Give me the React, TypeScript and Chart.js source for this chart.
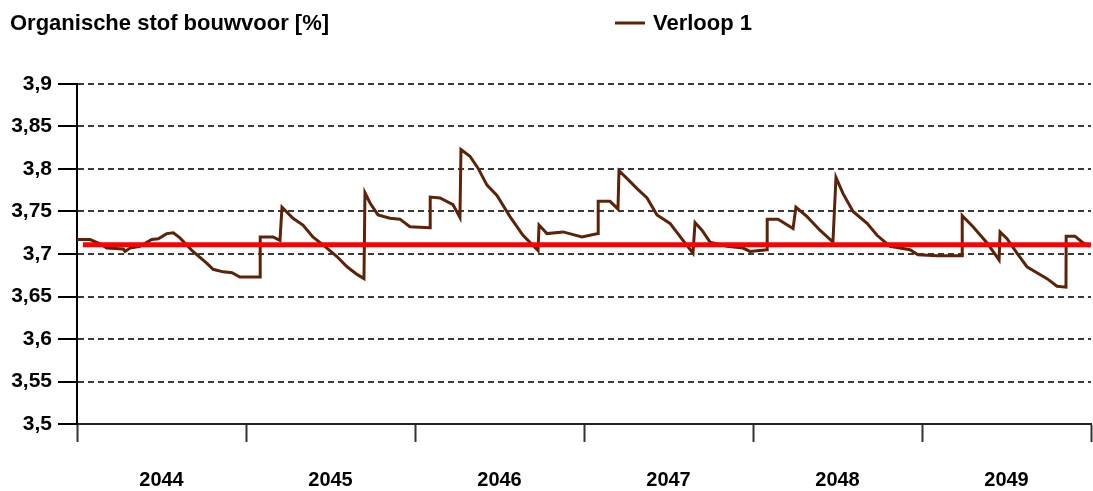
import React, { useEffect, useRef } from "react";
import { Chart, registerables } from "chart.js";

Chart.register(...registerables);

const titleText = "Organische stof bouwvoor [%]";
const seriesLabel = "Verloop 1";
const yearLabels = ["2044", "2045", "2046", "2047", "2048", "2049"];
const yTickValues = [3.5, 3.55, 3.6, 3.65, 3.7, 3.75, 3.8, 3.85, 3.9];
const referenceLevel = 3.711;

// time in years since 1 Jan 2044
const timeOffsets = [
  0.0, 0.077, 0.136, 0.176, 0.274, 0.284, 0.314, 0.373, 0.442, 0.481,
  0.531, 0.57, 0.609, 0.686, 0.769, 0.805, 0.864, 0.917, 0.964, 1.083,
  1.084, 1.16, 1.201, 1.213, 1.278, 1.337, 1.396, 1.479, 1.538, 1.598,
  1.657, 1.698, 1.704, 1.734, 1.781, 1.852, 1.911, 1.97, 2.089, 2.09,
  2.148, 2.225, 2.266, 2.272, 2.325, 2.373, 2.426, 2.485, 2.562, 2.639,
  2.728, 2.734, 2.781, 2.876, 2.988, 3.083, 3.084, 3.154, 3.201, 3.207,
  3.254, 3.314, 3.373, 3.432, 3.509, 3.586, 3.645, 3.657, 3.698, 3.746,
  3.846, 3.941, 3.982, 4.083, 4.084, 4.148, 4.237, 4.254, 4.32, 4.396,
  4.473, 4.491, 4.533, 4.592, 4.675, 4.734, 4.811, 4.929, 4.976, 5.089,
  5.237, 5.238, 5.302, 5.385, 5.456, 5.462, 5.503, 5.562, 5.621, 5.68,
  5.74, 5.799, 5.852, 5.853, 5.905, 5.953, 5.994,
];

const organicMatter = [
  3.717, 3.717, 3.712, 3.707, 3.706, 3.703, 3.707, 3.709, 3.717, 3.718,
  3.724, 3.725, 3.719, 3.703, 3.689, 3.682, 3.679, 3.678, 3.673, 3.673,
  3.72, 3.72, 3.716, 3.755, 3.742, 3.734, 3.72, 3.707, 3.697, 3.685,
  3.676, 3.671, 3.772, 3.76, 3.746, 3.742, 3.741, 3.732, 3.731, 3.767,
  3.766, 3.758, 3.743, 3.823, 3.815, 3.801, 3.781, 3.769, 3.744, 3.722,
  3.704, 3.734, 3.724, 3.726, 3.72, 3.724, 3.762, 3.762, 3.753, 3.798,
  3.789, 3.777, 3.766, 3.746, 3.736, 3.716, 3.701, 3.737, 3.728, 3.714,
  3.709, 3.707, 3.703, 3.705, 3.741, 3.741, 3.73, 3.755, 3.744, 3.728,
  3.714, 3.79, 3.771, 3.75, 3.736, 3.722, 3.709, 3.705, 3.699, 3.698,
  3.698, 3.745, 3.732, 3.713, 3.693, 3.726, 3.718, 3.701, 3.685, 3.678,
  3.671, 3.662, 3.661, 3.721, 3.721, 3.713, 3.709,
];

const startYear = 2044;

const FONT = "'Liberation Sans', Arial, sans-serif";

const headerPlugin = {
  id: "headerPlugin",
  afterDraw(chart: any) {
    const ctx = chart.ctx;
    ctx.save();
    ctx.fillStyle = "#000";
    ctx.font = `bold 22px ${FONT}`;
    ctx.textBaseline = "alphabetic";
    ctx.textAlign = "left";
    ctx.fillText(titleText, 10, 30);
    const ds = chart.data.datasets.find((d: any) => d.showInHeader);
    if (ds) {
      ctx.strokeStyle = ds.borderColor;
      ctx.lineWidth = 3;
      ctx.beginPath();
      ctx.moveTo(615, 23);
      ctx.lineTo(645, 23);
      ctx.stroke();
      ctx.fillText(ds.label, 653, 30);
    }
    ctx.restore();
  },
};

export default function App() {
  const canvasRef = useRef<HTMLCanvasElement | null>(null);

  useEffect(() => {
    document.body.style.margin = "0";
    const canvas = canvasRef.current;
    if (!canvas) return;

    const seriesPoints = timeOffsets.map((t, i) => ({
      x: startYear + t,
      y: organicMatter[i],
    }));
    const refPoints = [
      { x: startYear + 0.035, y: referenceLevel },
      { x: startYear + yearLabels.length, y: referenceLevel },
    ];

    const chart = new Chart(canvas, {
      type: "line",
      data: {
        datasets: [
          {
            label: "Referentie",
            data: refPoints,
            borderColor: "#ff0000",
            borderWidth: 5,
            pointRadius: 0,
            order: 0,
            xAxisID: "x",
            yAxisID: "y",
            clip: false,
          } as any,
          {
            label: seriesLabel,
            data: seriesPoints,
            borderColor: "#5c2308",
            borderWidth: 3,
            pointRadius: 0,
            tension: 0,
            order: 1,
            xAxisID: "x",
            yAxisID: "y",
            showInHeader: true,
          } as any,
        ],
      },
      options: {
        animation: false,
        responsive: true,
        maintainAspectRatio: false,
        layout: { padding: { top: 84, left: 0, right: 2, bottom: 0 } },
        plugins: {
          legend: { display: false },
          title: { display: false },
          tooltip: { enabled: false },
        },
        scales: {
          x: {
            type: "linear",
            display: false,
            min: startYear,
            max: startYear + yearLabels.length,
          },
          xl: {
            type: "category",
            position: "bottom",
            labels: yearLabels,
            offset: true,
            grid: {
              offset: true,
              drawOnChartArea: false,
              tickLength: 18,
              tickColor: "#333",
              tickWidth: 2,
              color: "#333",
            },
            border: { display: true, color: "#222", width: 2 },
            ticks: {
              color: "#000",
              font: { family: FONT, size: 20, weight: "bold" },
              padding: 26,
              maxRotation: 0,
            },
            afterFit(scale: any) {
              scale.height = 67;
            },
          } as any,
          y: {
            type: "linear",
            min: 3.5,
            max: 3.9,
            afterBuildTicks(scale: any) {
              scale.ticks = yTickValues.map((v) => ({ value: v }));
            },
            grid: {
              color: "#3a3a3a",
              lineWidth: 2,
              tickLength: 19,
              tickColor: "#000",
              tickWidth: 2,
              tickBorderDash: [],
            },
            border: { display: true, color: "#000", width: 2, dash: [6, 4] },
            ticks: {
              color: "#000",
              font: { family: FONT, size: 21, weight: "bold" },
              padding: 6,
              callback: (v: any) =>
                String(Number(Number(v).toFixed(2))).replace(".", ","),
            },
            afterFit(scale: any) {
              scale.width = 77;
            },
          } as any,
        },
      },
      plugins: [headerPlugin],
    });

    return () => chart.destroy();
  }, []);

  return (
    <div style={{ position: "relative", width: 1093, height: 491 }}>
      <canvas ref={canvasRef} />
    </div>
  );
}
